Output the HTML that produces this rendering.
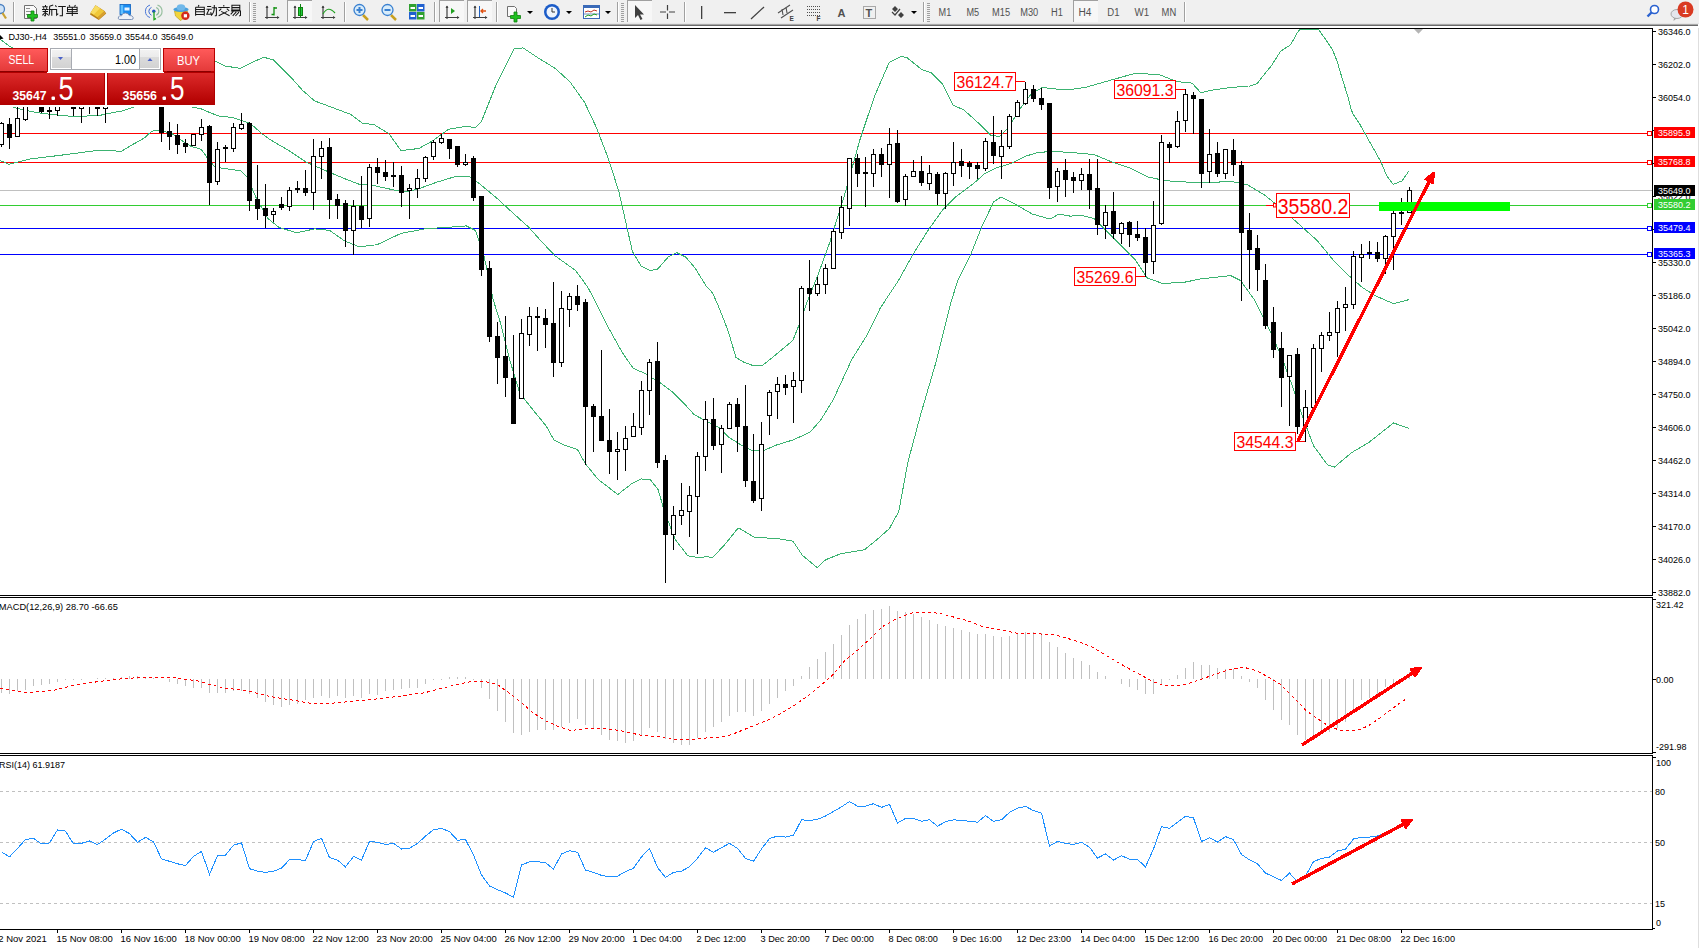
<!DOCTYPE html><html><head><meta charset="utf-8"><title>MT4 DJ30 H4</title><style>
html,body{margin:0;padding:0;width:1699px;height:948px;overflow:hidden;background:#fff}
svg{display:block} text{font-family:"Liberation Sans", sans-serif}
</style></head><body>
<svg width="1699" height="948" viewBox="0 0 1699 948">
<rect x="0" y="0" width="1699" height="948" fill="#fff"/>
<defs><clipPath id="cm"><rect x="0" y="29" width="1652" height="566"/></clipPath><clipPath id="cmacd"><rect x="0" y="598" width="1652" height="155"/></clipPath><clipPath id="crsi"><rect x="0" y="756" width="1652" height="173"/></clipPath><linearGradient id="gsell" x1="0" y1="0" x2="0" y2="1"><stop offset="0" stop-color="#ff5a5a"/><stop offset="1" stop-color="#e43a3a"/></linearGradient><linearGradient id="gprice" x1="0" y1="0" x2="0" y2="1"><stop offset="0" stop-color="#dc2a2a"/><stop offset="1" stop-color="#b20000"/></linearGradient><linearGradient id="gbtn" x1="0" y1="0" x2="0" y2="1"><stop offset="0" stop-color="#f2f2f2"/><stop offset="0.38" stop-color="#ebebeb"/><stop offset="0.4" stop-color="#dcdcdc"/><stop offset="1" stop-color="#d2d2d2"/></linearGradient></defs>
<g clip-path="url(#cm)">
<rect x="0" y="133" width="1652" height="1" fill="#ff0000"/>
<rect x="0" y="162" width="1652" height="1" fill="#ff0000"/>
<rect x="0" y="190" width="1652" height="1" fill="#c0c0c0"/>
<rect x="0" y="205" width="1652" height="1" fill="#32cd32"/>
<rect x="0" y="228" width="1652" height="1" fill="#0000ff"/>
<rect x="0" y="254" width="1652" height="1" fill="#0000ff"/>
<polyline points="0.0,39.0 9.0,46.0 20.0,52.0 60.0,58.0 120.0,60.0 170.0,57.0 200.0,60.0 217.0,61.9 225.4,66.1 240.3,68.3 250.9,63.0 263.6,57.2 273.1,59.8 290.8,77.1 302.7,90.5 314.6,100.9 338.5,109.8 350.4,114.3 362.3,123.2 374.2,124.7 389.0,133.7 401.0,150.6 418.8,148.5 432.2,141.1 448.6,129.2 466.4,126.2 475.4,127.7 481.3,121.8 496.2,84.5 514.0,48.8 523.0,47.9 537.9,57.8 554.9,68.2 569.8,81.6 584.6,102.4 596.5,127.7 608.5,159.0 618.9,191.7 626.3,224.4 632.3,251.2 641.2,266.1 650.1,270.6 657.6,269.1 668.0,257.2 676.9,252.7 685.8,257.2 694.8,267.6 706.7,286.9 712.6,292.9 720.0,310.0 728.2,331.1 736.0,357.6 743.8,362.2 752.4,365.3 761.8,366.0 774.2,356.0 792.9,340.4 799.1,324.9 806.0,304.8 817.9,275.0 829.8,242.3 844.6,194.7 859.5,141.1 874.4,96.5 889.3,62.2 901.2,56.3 907.1,57.8 922.0,69.7 931.0,72.6 942.9,84.5 953.3,105.4 963.7,109.8 978.6,123.2 990.5,135.1 999.4,136.6 1008.3,127.7 1020.2,108.4 1032.1,92.9 1042.6,87.5 1056.0,89.0 1070.0,89.6 1084.9,87.5 1105.7,81.6 1135.5,73.2 1159.3,74.7 1177.1,81.6 1192.0,83.1 1201.0,92.9 1209.9,90.5 1230.7,87.5 1248.6,86.0 1250.0,86.0 1257.0,83.7 1265.3,73.1 1271.2,66.0 1280.6,51.3 1284.1,49.0 1288.8,46.0 1291.2,43.7 1297.1,33.1 1300.0,29.0 1318.3,29.0 1327.7,42.5 1332.4,49.5 1337.1,61.3 1340.6,73.1 1344.2,84.9 1347.4,95.0 1351.6,110.8 1353.7,115.0 1360.0,124.6 1365.3,134.0 1374.8,151.0 1381.2,162.5 1386.4,175.2 1393.3,184.5 1398.0,182.4 1401.7,181.3 1408.6,171.5" fill="none" stroke="#3cb371" stroke-width="1" shape-rendering="crispEdges"/>
<polyline points="0.0,103.0 10.0,106.0 14.0,107.5 17.9,108.4 29.8,111.3 44.6,113.7 74.4,116.7 100.0,115.3 112.7,112.7 122.8,110.8 134.2,107.0 140.0,104.0 160.0,100.0 186.0,104.0 192.4,107.0 201.3,108.9 210.1,112.7 220.0,116.5 232.1,117.3 250.0,123.2 261.9,133.7 270.0,139.6 287.9,150.0 305.7,161.9 329.5,172.3 347.4,179.8 359.3,184.3 374.2,185.7 395.0,190.2 406.9,191.7 418.8,188.7 436.7,182.2 454.5,176.8 469.4,176.8 478.3,182.8 496.2,197.6 514.0,214.0 528.9,227.4 540.0,239.9 554.9,255.7 575.7,270.6 587.6,286.9 594.5,300.0 606.9,324.9 622.5,352.9 633.3,368.4 644.2,373.1 659.8,382.5 672.2,391.8 684.7,404.2 694.0,414.5 706.5,421.3 718.9,427.6 728.2,436.9 740.7,444.7 752.4,450.9 764.9,450.0 777.3,444.7 792.9,440.0 810.0,432.2 820.9,419.8 833.3,399.6 852.0,359.1 867.6,334.2 880.4,307.8 898.2,281.0 913.1,254.2 928.0,230.4 942.9,209.5 954.8,197.6 972.6,184.3 984.5,173.8 996.4,167.9 1011.3,163.4 1026.2,156.0 1038.1,152.4 1053.0,151.5 1070.0,152.4 1093.8,154.5 1111.7,161.9 1129.5,167.9 1147.4,176.8 1165.2,180.7 1189.0,182.2 1206.9,182.8 1230.7,181.3 1247.4,184.8 1264.8,195.2 1282.2,209.1 1299.6,224.8 1317.0,240.4 1334.3,261.3 1348.3,275.2 1362.2,287.4 1376.1,296.1 1393.5,303.7 1409.1,299.6" fill="none" stroke="#3cb371" stroke-width="1" shape-rendering="crispEdges"/>
<polyline points="0.0,160.4 8.9,164.3 29.8,159.0 59.5,155.4 100.0,150.1 121.5,151.3 132.9,144.4 144.3,138.0 150.6,132.3 154.4,130.2 158.2,130.4 170.9,133.0 181.0,140.0 191.1,146.3 201.3,149.4 207.6,158.3 213.9,165.9 220.2,167.9 241.0,170.9 247.0,176.8 256.0,197.6 267.9,218.5 278.9,227.4 296.8,232.8 314.6,228.9 329.5,230.4 344.4,240.8 359.3,246.8 377.1,244.7 401.0,233.4 424.8,228.9 454.5,226.8 466.4,225.9 475.4,230.4 484.3,257.2 493.3,300.0 501.1,324.9 510.4,362.2 519.8,393.3 532.2,408.9 546.2,426.0 554.0,440.0 563.3,444.7 577.3,449.3 585.1,463.3 597.6,478.9 617.8,494.5 631.8,483.6 641.1,478.9 650.5,479.8 658.2,489.8 664.5,511.6 675.3,539.6 687.8,555.8 698.7,557.6 706.5,556.7 712.7,557.6 725.1,544.2 737.6,528.7 740.0,528.7 754.0,537.1 780.4,539.0 792.9,541.1 802.2,555.1 817.2,567.6 825.6,559.8 841.1,553.6 864.5,549.8 876.9,539.6 889.3,528.7 898.7,511.6 908.0,461.8 920.5,415.1 936.0,362.2 951.6,300.0 957.7,281.0 969.6,257.2 981.5,227.4 993.5,202.1 1000.9,197.0 1014.3,203.6 1032.1,214.0 1050.0,219.1 1058.9,214.0 1070.0,216.1 1081.9,215.5 1093.8,218.5 1108.7,233.4 1123.6,248.2 1135.5,260.1 1147.4,278.0 1162.3,283.4 1183.1,282.5 1201.0,278.9 1230.7,275.6 1240.4,280.4 1254.3,299.6 1271.7,334.3 1282.2,358.7 1292.6,386.5 1303.0,417.8 1313.5,445.7 1327.4,464.8 1334.3,467.2 1351.7,452.6 1369.1,442.2 1393.5,423.0 1409.1,428.3" fill="none" stroke="#3cb371" stroke-width="1" shape-rendering="crispEdges"/>
<g fill="#000" shape-rendering="crispEdges"><rect x="1" y="122" width="1" height="25"/><rect x="-1" y="123" width="5" height="22"/><rect x="0" y="124" width="3" height="20" fill="#fff"/><rect x="9" y="118" width="1" height="31"/><rect x="7" y="124" width="5" height="14"/><rect x="17" y="104" width="1" height="33"/><rect x="15" y="118" width="5" height="19"/><rect x="16" y="119" width="3" height="17" fill="#fff"/><rect x="25" y="95" width="1" height="26"/><rect x="23" y="98" width="5" height="22"/><rect x="24" y="99" width="3" height="20" fill="#fff"/><rect x="33" y="88" width="1" height="17"/><rect x="31" y="92" width="5" height="9"/><rect x="41" y="96" width="1" height="17"/><rect x="39" y="100" width="5" height="12"/><rect x="49" y="100" width="1" height="19"/><rect x="47" y="110" width="5" height="2"/><rect x="57" y="97" width="1" height="19"/><rect x="55" y="100" width="5" height="11"/><rect x="56" y="101" width="3" height="9" fill="#fff"/><rect x="65" y="92" width="1" height="13"/><rect x="63" y="95" width="5" height="9"/><rect x="73" y="98" width="1" height="18"/><rect x="71" y="100" width="5" height="9"/><rect x="81" y="99" width="1" height="24"/><rect x="79" y="100" width="5" height="9"/><rect x="80" y="101" width="3" height="7" fill="#fff"/><rect x="89" y="95" width="1" height="19"/><rect x="87" y="98" width="5" height="7"/><rect x="97" y="96" width="1" height="20"/><rect x="95" y="100" width="5" height="9"/><rect x="105" y="97" width="1" height="26"/><rect x="103" y="100" width="5" height="9"/><rect x="104" y="101" width="3" height="7" fill="#fff"/><rect x="113" y="94" width="1" height="11"/><rect x="111" y="98" width="5" height="6"/><rect x="112" y="99" width="3" height="4" fill="#fff"/><rect x="121" y="86" width="1" height="16"/><rect x="119" y="90" width="5" height="9"/><rect x="120" y="91" width="3" height="7" fill="#fff"/><rect x="129" y="85" width="1" height="16"/><rect x="127" y="90" width="5" height="7"/><rect x="137" y="80" width="1" height="16"/><rect x="135" y="84" width="5" height="9"/><rect x="136" y="85" width="3" height="7" fill="#fff"/><rect x="145" y="76" width="1" height="15"/><rect x="143" y="80" width="5" height="7"/><rect x="144" y="81" width="3" height="5" fill="#fff"/><rect x="153" y="78" width="1" height="23"/><rect x="151" y="80" width="5" height="16"/><rect x="161" y="92" width="1" height="50"/><rect x="159" y="95" width="5" height="38"/><rect x="169" y="122" width="1" height="28"/><rect x="167" y="131" width="5" height="6"/><rect x="177" y="124" width="1" height="30"/><rect x="175" y="135" width="5" height="10"/><rect x="185" y="139" width="1" height="14"/><rect x="183" y="143" width="5" height="4"/><rect x="193" y="134" width="1" height="12"/><rect x="191" y="134" width="5" height="12"/><rect x="192" y="135" width="3" height="10" fill="#fff"/><rect x="201" y="119" width="1" height="22"/><rect x="199" y="127" width="5" height="8"/><rect x="200" y="128" width="3" height="6" fill="#fff"/><rect x="209" y="125" width="1" height="80"/><rect x="207" y="126" width="5" height="57"/><rect x="217" y="142" width="1" height="43"/><rect x="215" y="149" width="5" height="33"/><rect x="216" y="150" width="3" height="31" fill="#fff"/><rect x="225" y="145" width="1" height="17"/><rect x="223" y="147" width="5" height="2"/><rect x="233" y="123" width="1" height="29"/><rect x="231" y="127" width="5" height="22"/><rect x="232" y="128" width="3" height="20" fill="#fff"/><rect x="241" y="113" width="1" height="17"/><rect x="239" y="124" width="5" height="5"/><rect x="240" y="125" width="3" height="3" fill="#fff"/><rect x="249" y="122" width="1" height="89"/><rect x="247" y="123" width="5" height="78"/><rect x="257" y="165" width="1" height="55"/><rect x="255" y="199" width="5" height="10"/><rect x="265" y="184" width="1" height="44"/><rect x="263" y="208" width="5" height="8"/><rect x="273" y="208" width="1" height="14"/><rect x="271" y="211" width="5" height="4"/><rect x="272" y="212" width="3" height="2" fill="#fff"/><rect x="281" y="197" width="1" height="13"/><rect x="279" y="204" width="5" height="4"/><rect x="289" y="187" width="1" height="24"/><rect x="287" y="190" width="5" height="17"/><rect x="288" y="191" width="3" height="15" fill="#fff"/><rect x="297" y="181" width="1" height="12"/><rect x="295" y="188" width="5" height="2"/><rect x="305" y="170" width="1" height="26"/><rect x="303" y="188" width="5" height="5"/><rect x="313" y="139" width="1" height="71"/><rect x="311" y="156" width="5" height="37"/><rect x="312" y="157" width="3" height="35" fill="#fff"/><rect x="321" y="141" width="1" height="38"/><rect x="319" y="148" width="5" height="9"/><rect x="320" y="149" width="3" height="7" fill="#fff"/><rect x="329" y="138" width="1" height="81"/><rect x="327" y="147" width="5" height="53"/><rect x="337" y="194" width="1" height="25"/><rect x="335" y="199" width="5" height="7"/><rect x="345" y="200" width="1" height="47"/><rect x="343" y="203" width="5" height="28"/><rect x="353" y="200" width="1" height="55"/><rect x="351" y="206" width="5" height="25"/><rect x="352" y="207" width="3" height="23" fill="#fff"/><rect x="361" y="176" width="1" height="52"/><rect x="359" y="206" width="5" height="14"/><rect x="369" y="164" width="1" height="63"/><rect x="367" y="167" width="5" height="52"/><rect x="368" y="168" width="3" height="50" fill="#fff"/><rect x="377" y="158" width="1" height="26"/><rect x="375" y="167" width="5" height="6"/><rect x="385" y="160" width="1" height="21"/><rect x="383" y="172" width="5" height="5"/><rect x="393" y="162" width="1" height="25"/><rect x="391" y="175" width="5" height="2"/><rect x="401" y="166" width="1" height="41"/><rect x="399" y="175" width="5" height="18"/><rect x="409" y="184" width="1" height="35"/><rect x="407" y="188" width="5" height="3"/><rect x="408" y="189" width="3" height="1" fill="#fff"/><rect x="417" y="169" width="1" height="29"/><rect x="415" y="178" width="5" height="11"/><rect x="416" y="179" width="3" height="9" fill="#fff"/><rect x="425" y="156" width="1" height="26"/><rect x="423" y="157" width="5" height="22"/><rect x="424" y="158" width="3" height="20" fill="#fff"/><rect x="433" y="140" width="1" height="20"/><rect x="431" y="142" width="5" height="15"/><rect x="432" y="143" width="3" height="13" fill="#fff"/><rect x="441" y="134" width="1" height="10"/><rect x="439" y="138" width="5" height="5"/><rect x="440" y="139" width="3" height="3" fill="#fff"/><rect x="449" y="139" width="1" height="20"/><rect x="447" y="139" width="5" height="10"/><rect x="457" y="146" width="1" height="21"/><rect x="455" y="146" width="5" height="19"/><rect x="465" y="154" width="1" height="12"/><rect x="463" y="162" width="5" height="3"/><rect x="464" y="163" width="3" height="1" fill="#fff"/><rect x="473" y="156" width="1" height="45"/><rect x="471" y="158" width="5" height="40"/><rect x="481" y="196" width="1" height="80"/><rect x="479" y="196" width="5" height="74"/><rect x="489" y="261" width="1" height="81"/><rect x="487" y="268" width="5" height="69"/><rect x="497" y="322" width="1" height="62"/><rect x="495" y="336" width="5" height="22"/><rect x="505" y="316" width="1" height="81"/><rect x="503" y="356" width="5" height="22"/><rect x="513" y="335" width="1" height="89"/><rect x="511" y="378" width="5" height="46"/><rect x="521" y="319" width="1" height="80"/><rect x="519" y="333" width="5" height="66"/><rect x="520" y="334" width="3" height="64" fill="#fff"/><rect x="529" y="307" width="1" height="39"/><rect x="527" y="316" width="5" height="19"/><rect x="528" y="317" width="3" height="17" fill="#fff"/><rect x="537" y="307" width="1" height="44"/><rect x="535" y="316" width="5" height="2"/><rect x="545" y="309" width="1" height="39"/><rect x="543" y="318" width="5" height="7"/><rect x="553" y="282" width="1" height="95"/><rect x="551" y="323" width="5" height="40"/><rect x="561" y="291" width="1" height="76"/><rect x="559" y="308" width="5" height="55"/><rect x="560" y="309" width="3" height="53" fill="#fff"/><rect x="569" y="293" width="1" height="34"/><rect x="567" y="296" width="5" height="14"/><rect x="568" y="297" width="3" height="12" fill="#fff"/><rect x="577" y="285" width="1" height="26"/><rect x="575" y="296" width="5" height="9"/><rect x="585" y="299" width="1" height="166"/><rect x="583" y="302" width="5" height="105"/><rect x="593" y="404" width="1" height="48"/><rect x="591" y="406" width="5" height="11"/><rect x="601" y="350" width="1" height="91"/><rect x="599" y="416" width="5" height="25"/><rect x="609" y="409" width="1" height="65"/><rect x="607" y="440" width="5" height="12"/><rect x="617" y="432" width="1" height="48"/><rect x="615" y="449" width="5" height="3"/><rect x="616" y="450" width="3" height="1" fill="#fff"/><rect x="625" y="426" width="1" height="45"/><rect x="623" y="438" width="5" height="12"/><rect x="624" y="439" width="3" height="10" fill="#fff"/><rect x="633" y="413" width="1" height="24"/><rect x="631" y="426" width="5" height="11"/><rect x="632" y="427" width="3" height="9" fill="#fff"/><rect x="641" y="381" width="1" height="54"/><rect x="639" y="390" width="5" height="38"/><rect x="640" y="391" width="3" height="36" fill="#fff"/><rect x="649" y="359" width="1" height="56"/><rect x="647" y="362" width="5" height="29"/><rect x="648" y="363" width="3" height="27" fill="#fff"/><rect x="657" y="342" width="1" height="126"/><rect x="655" y="361" width="5" height="102"/><rect x="665" y="455" width="1" height="128"/><rect x="663" y="460" width="5" height="75"/><rect x="673" y="506" width="1" height="44"/><rect x="671" y="515" width="5" height="20"/><rect x="672" y="516" width="3" height="18" fill="#fff"/><rect x="681" y="483" width="1" height="42"/><rect x="679" y="510" width="5" height="6"/><rect x="680" y="511" width="3" height="4" fill="#fff"/><rect x="689" y="486" width="1" height="51"/><rect x="687" y="495" width="5" height="17"/><rect x="688" y="496" width="3" height="15" fill="#fff"/><rect x="697" y="452" width="1" height="102"/><rect x="695" y="456" width="5" height="41"/><rect x="696" y="457" width="3" height="39" fill="#fff"/><rect x="705" y="401" width="1" height="70"/><rect x="703" y="419" width="5" height="38"/><rect x="704" y="420" width="3" height="36" fill="#fff"/><rect x="713" y="398" width="1" height="52"/><rect x="711" y="419" width="5" height="27"/><rect x="721" y="425" width="1" height="48"/><rect x="719" y="428" width="5" height="17"/><rect x="720" y="429" width="3" height="15" fill="#fff"/><rect x="729" y="402" width="1" height="27"/><rect x="727" y="404" width="5" height="25"/><rect x="728" y="405" width="3" height="23" fill="#fff"/><rect x="737" y="398" width="1" height="54"/><rect x="735" y="404" width="5" height="23"/><rect x="745" y="385" width="1" height="102"/><rect x="743" y="426" width="5" height="55"/><rect x="753" y="434" width="1" height="69"/><rect x="751" y="481" width="5" height="20"/><rect x="761" y="422" width="1" height="89"/><rect x="759" y="444" width="5" height="55"/><rect x="760" y="445" width="3" height="53" fill="#fff"/><rect x="769" y="390" width="1" height="45"/><rect x="767" y="392" width="5" height="24"/><rect x="768" y="393" width="3" height="22" fill="#fff"/><rect x="777" y="377" width="1" height="42"/><rect x="775" y="384" width="5" height="8"/><rect x="776" y="385" width="3" height="6" fill="#fff"/><rect x="785" y="375" width="1" height="20"/><rect x="783" y="384" width="5" height="4"/><rect x="793" y="372" width="1" height="51"/><rect x="791" y="380" width="5" height="7"/><rect x="792" y="381" width="3" height="5" fill="#fff"/><rect x="801" y="286" width="1" height="107"/><rect x="799" y="288" width="5" height="93"/><rect x="800" y="289" width="3" height="91" fill="#fff"/><rect x="809" y="260" width="1" height="51"/><rect x="807" y="288" width="5" height="6"/><rect x="817" y="277" width="1" height="19"/><rect x="815" y="284" width="5" height="10"/><rect x="816" y="285" width="3" height="8" fill="#fff"/><rect x="825" y="264" width="1" height="30"/><rect x="823" y="268" width="5" height="17"/><rect x="824" y="269" width="3" height="15" fill="#fff"/><rect x="833" y="229" width="1" height="40"/><rect x="831" y="231" width="5" height="38"/><rect x="832" y="232" width="3" height="36" fill="#fff"/><rect x="841" y="196" width="1" height="43"/><rect x="839" y="207" width="5" height="26"/><rect x="840" y="208" width="3" height="24" fill="#fff"/><rect x="849" y="158" width="1" height="68"/><rect x="847" y="158" width="5" height="51"/><rect x="848" y="159" width="3" height="49" fill="#fff"/><rect x="857" y="154" width="1" height="33"/><rect x="855" y="158" width="5" height="16"/><rect x="865" y="157" width="1" height="50"/><rect x="863" y="172" width="5" height="2"/><rect x="873" y="149" width="1" height="38"/><rect x="871" y="154" width="5" height="20"/><rect x="872" y="155" width="3" height="18" fill="#fff"/><rect x="881" y="148" width="1" height="29"/><rect x="879" y="154" width="5" height="11"/><rect x="889" y="128" width="1" height="70"/><rect x="887" y="144" width="5" height="21"/><rect x="888" y="145" width="3" height="19" fill="#fff"/><rect x="897" y="130" width="1" height="73"/><rect x="895" y="143" width="5" height="59"/><rect x="905" y="174" width="1" height="32"/><rect x="903" y="176" width="5" height="24"/><rect x="904" y="177" width="3" height="22" fill="#fff"/><rect x="913" y="160" width="1" height="17"/><rect x="911" y="171" width="5" height="6"/><rect x="912" y="172" width="3" height="4" fill="#fff"/><rect x="921" y="156" width="1" height="30"/><rect x="919" y="171" width="5" height="12"/><rect x="929" y="165" width="1" height="25"/><rect x="927" y="173" width="5" height="11"/><rect x="928" y="174" width="3" height="9" fill="#fff"/><rect x="937" y="172" width="1" height="33"/><rect x="935" y="174" width="5" height="20"/><rect x="945" y="172" width="1" height="37"/><rect x="943" y="173" width="5" height="21"/><rect x="944" y="174" width="3" height="19" fill="#fff"/><rect x="953" y="142" width="1" height="44"/><rect x="951" y="162" width="5" height="12"/><rect x="952" y="163" width="3" height="10" fill="#fff"/><rect x="961" y="149" width="1" height="28"/><rect x="959" y="161" width="5" height="5"/><rect x="969" y="161" width="1" height="18"/><rect x="967" y="163" width="5" height="4"/><rect x="977" y="162" width="1" height="17"/><rect x="975" y="165" width="5" height="4"/><rect x="985" y="138" width="1" height="33"/><rect x="983" y="141" width="5" height="28"/><rect x="984" y="142" width="3" height="26" fill="#fff"/><rect x="993" y="116" width="1" height="48"/><rect x="991" y="142" width="5" height="14"/><rect x="1001" y="130" width="1" height="49"/><rect x="999" y="146" width="5" height="11"/><rect x="1000" y="147" width="3" height="9" fill="#fff"/><rect x="1009" y="114" width="1" height="35"/><rect x="1007" y="116" width="5" height="31"/><rect x="1008" y="117" width="3" height="29" fill="#fff"/><rect x="1017" y="100" width="1" height="17"/><rect x="1015" y="102" width="5" height="15"/><rect x="1016" y="103" width="3" height="13" fill="#fff"/><rect x="1025" y="82" width="1" height="23"/><rect x="1023" y="89" width="5" height="15"/><rect x="1024" y="90" width="3" height="13" fill="#fff"/><rect x="1033" y="85" width="1" height="17"/><rect x="1031" y="89" width="5" height="10"/><rect x="1041" y="88" width="1" height="22"/><rect x="1039" y="98" width="5" height="7"/><rect x="1049" y="103" width="1" height="96"/><rect x="1047" y="103" width="5" height="85"/><rect x="1057" y="168" width="1" height="34"/><rect x="1055" y="171" width="5" height="16"/><rect x="1056" y="172" width="3" height="14" fill="#fff"/><rect x="1065" y="159" width="1" height="38"/><rect x="1063" y="170" width="5" height="10"/><rect x="1073" y="172" width="1" height="21"/><rect x="1071" y="177" width="5" height="4"/><rect x="1081" y="168" width="1" height="22"/><rect x="1079" y="174" width="5" height="7"/><rect x="1080" y="175" width="3" height="5" fill="#fff"/><rect x="1089" y="159" width="1" height="50"/><rect x="1087" y="174" width="5" height="16"/><rect x="1097" y="159" width="1" height="76"/><rect x="1095" y="188" width="5" height="37"/><rect x="1105" y="205" width="1" height="34"/><rect x="1103" y="212" width="5" height="14"/><rect x="1104" y="213" width="3" height="12" fill="#fff"/><rect x="1113" y="192" width="1" height="47"/><rect x="1111" y="211" width="5" height="23"/><rect x="1121" y="222" width="1" height="22"/><rect x="1119" y="223" width="5" height="11"/><rect x="1120" y="224" width="3" height="9" fill="#fff"/><rect x="1129" y="221" width="1" height="26"/><rect x="1127" y="222" width="5" height="13"/><rect x="1137" y="221" width="1" height="20"/><rect x="1135" y="234" width="5" height="4"/><rect x="1145" y="228" width="1" height="49"/><rect x="1143" y="237" width="5" height="26"/><rect x="1153" y="201" width="1" height="73"/><rect x="1151" y="225" width="5" height="37"/><rect x="1152" y="226" width="3" height="35" fill="#fff"/><rect x="1161" y="135" width="1" height="90"/><rect x="1159" y="142" width="5" height="82"/><rect x="1160" y="143" width="3" height="80" fill="#fff"/><rect x="1169" y="142" width="1" height="21"/><rect x="1167" y="144" width="5" height="4"/><rect x="1177" y="111" width="1" height="37"/><rect x="1175" y="121" width="5" height="26"/><rect x="1176" y="122" width="3" height="24" fill="#fff"/><rect x="1185" y="89" width="1" height="43"/><rect x="1183" y="94" width="5" height="27"/><rect x="1184" y="95" width="3" height="25" fill="#fff"/><rect x="1193" y="92" width="1" height="42"/><rect x="1191" y="95" width="5" height="4"/><rect x="1201" y="99" width="1" height="89"/><rect x="1199" y="99" width="5" height="75"/><rect x="1209" y="129" width="1" height="54"/><rect x="1207" y="154" width="5" height="18"/><rect x="1208" y="155" width="3" height="16" fill="#fff"/><rect x="1217" y="142" width="1" height="35"/><rect x="1215" y="153" width="5" height="21"/><rect x="1225" y="149" width="1" height="30"/><rect x="1223" y="149" width="5" height="25"/><rect x="1224" y="150" width="3" height="23" fill="#fff"/><rect x="1233" y="139" width="1" height="37"/><rect x="1231" y="150" width="5" height="15"/><rect x="1241" y="161" width="1" height="140"/><rect x="1239" y="165" width="5" height="68"/><rect x="1249" y="213" width="1" height="76"/><rect x="1247" y="230" width="5" height="20"/><rect x="1257" y="235" width="1" height="56"/><rect x="1255" y="248" width="5" height="22"/><rect x="1265" y="264" width="1" height="65"/><rect x="1263" y="280" width="5" height="46"/><rect x="1273" y="307" width="1" height="51"/><rect x="1271" y="322" width="5" height="28"/><rect x="1281" y="332" width="1" height="75"/><rect x="1279" y="348" width="5" height="30"/><rect x="1289" y="355" width="1" height="71"/><rect x="1287" y="355" width="5" height="22"/><rect x="1288" y="356" width="3" height="20" fill="#fff"/><rect x="1297" y="348" width="1" height="86"/><rect x="1295" y="354" width="5" height="73"/><rect x="1305" y="390" width="1" height="52"/><rect x="1303" y="407" width="5" height="20"/><rect x="1304" y="408" width="3" height="18" fill="#fff"/><rect x="1313" y="344" width="1" height="64"/><rect x="1311" y="348" width="5" height="60"/><rect x="1312" y="349" width="3" height="58" fill="#fff"/><rect x="1321" y="332" width="1" height="40"/><rect x="1319" y="335" width="5" height="14"/><rect x="1320" y="336" width="3" height="12" fill="#fff"/><rect x="1329" y="312" width="1" height="29"/><rect x="1327" y="332" width="5" height="4"/><rect x="1328" y="333" width="3" height="2" fill="#fff"/><rect x="1337" y="301" width="1" height="56"/><rect x="1335" y="308" width="5" height="25"/><rect x="1336" y="309" width="3" height="23" fill="#fff"/><rect x="1345" y="287" width="1" height="44"/><rect x="1343" y="304" width="5" height="4"/><rect x="1344" y="305" width="3" height="2" fill="#fff"/><rect x="1353" y="251" width="1" height="58"/><rect x="1351" y="256" width="5" height="49"/><rect x="1352" y="257" width="3" height="47" fill="#fff"/><rect x="1361" y="244" width="1" height="38"/><rect x="1359" y="254" width="5" height="4"/><rect x="1360" y="255" width="3" height="2" fill="#fff"/><rect x="1369" y="241" width="1" height="18"/><rect x="1367" y="252" width="5" height="2"/><rect x="1377" y="242" width="1" height="20"/><rect x="1375" y="252" width="5" height="7"/><rect x="1385" y="235" width="1" height="39"/><rect x="1383" y="236" width="5" height="23"/><rect x="1384" y="237" width="3" height="21" fill="#fff"/><rect x="1393" y="211" width="1" height="59"/><rect x="1391" y="213" width="5" height="24"/><rect x="1392" y="214" width="3" height="22" fill="#fff"/><rect x="1401" y="198" width="1" height="27"/><rect x="1399" y="212" width="5" height="2"/><rect x="1409" y="187" width="1" height="26"/><rect x="1407" y="190" width="5" height="23"/><rect x="1408" y="191" width="3" height="21" fill="#fff"/></g>
<rect x="1647.5" y="131.5" width="4" height="4" fill="#fff" stroke="#ff0000" stroke-width="1"/>
<rect x="1647.5" y="160.5" width="4" height="4" fill="#fff" stroke="#ff0000" stroke-width="1"/>
<rect x="1647.5" y="203.5" width="4" height="4" fill="#fff" stroke="#32cd32" stroke-width="1"/>
<rect x="1647.5" y="226.5" width="4" height="4" fill="#fff" stroke="#0000ff" stroke-width="1"/>
<rect x="1647.5" y="252.5" width="4" height="4" fill="#fff" stroke="#0000ff" stroke-width="1"/>
<rect x="1379" y="202" width="131" height="9" fill="#00ff00"/>
<line x1="1016" y1="81.5" x2="1025" y2="81.5" stroke="#ff0000" stroke-width="1"/>
<rect x="954.5" y="72.5" width="61" height="18" fill="#fff" stroke="#ff0000" stroke-width="1"/>
<text x="985.0" y="87.8" font-size="16.5" fill="#ff0000" font-weight="normal" text-anchor="middle" textLength="57" lengthAdjust="spacingAndGlyphs" >36124.7</text>
<line x1="1176" y1="89.5" x2="1185" y2="89.5" stroke="#ff0000" stroke-width="1"/>
<rect x="1114.5" y="80.5" width="61" height="18" fill="#fff" stroke="#ff0000" stroke-width="1"/>
<text x="1145.0" y="95.8" font-size="16.5" fill="#ff0000" font-weight="normal" text-anchor="middle" textLength="57" lengthAdjust="spacingAndGlyphs" >36091.3</text>
<line x1="1136" y1="276.5" x2="1145" y2="276.5" stroke="#ff0000" stroke-width="1"/>
<rect x="1074.5" y="267.5" width="61" height="18" fill="#fff" stroke="#ff0000" stroke-width="1"/>
<text x="1105.0" y="282.8" font-size="16.5" fill="#ff0000" font-weight="normal" text-anchor="middle" textLength="57" lengthAdjust="spacingAndGlyphs" >35269.6</text>
<line x1="1296" y1="441.5" x2="1305" y2="441.5" stroke="#ff0000" stroke-width="1"/>
<rect x="1234.5" y="432.5" width="61" height="18" fill="#fff" stroke="#ff0000" stroke-width="1"/>
<text x="1265.0" y="447.8" font-size="16.5" fill="#ff0000" font-weight="normal" text-anchor="middle" textLength="57" lengthAdjust="spacingAndGlyphs" >34544.3</text>
<line x1="1266" y1="205.5" x2="1276" y2="205.5" stroke="#ff0000" stroke-width="1"/>
<rect x="1273.5" y="203.5" width="2.5" height="3.5" fill="#fff" stroke="#ff0000" stroke-width="1"/>
<rect x="1276.5" y="193.5" width="73" height="24" fill="#fff" stroke="#ff0000" stroke-width="1"/>
<text x="1313" y="214" font-size="21.5" fill="#ff0000" font-weight="normal" text-anchor="middle" textLength="70.5" lengthAdjust="spacingAndGlyphs" >35580.2</text>
<line x1="1298" y1="441" x2="1430.3" y2="179.3" stroke="#ff0000" stroke-width="3.4" shape-rendering="crispEdges"/>
<polygon points="1433.5,173.1 1433.1,183.0 1425.6,179.2" fill="#ff0000" stroke="#ff0000" stroke-width="2.4" stroke-linejoin="round" shape-rendering="crispEdges"/>
<polygon points="1414,29 1423,29 1418.5,33.8" fill="#b4b4b4"/>
</g>
<g clip-path="url(#cmacd)">
<g fill="#c0c0c0" shape-rendering="crispEdges"><rect x="1" y="679" width="1" height="14"/><rect x="9" y="679" width="1" height="15"/><rect x="17" y="679" width="1" height="12"/><rect x="25" y="679" width="1" height="11"/><rect x="33" y="679" width="1" height="7"/><rect x="41" y="679" width="1" height="6"/><rect x="49" y="679" width="1" height="5"/><rect x="57" y="679" width="1" height="3"/><rect x="65" y="679" width="1" height="1"/><rect x="73" y="679" width="1" height="1"/><rect x="81" y="679" width="1" height="1"/><rect x="97" y="678" width="1" height="1"/><rect x="105" y="678" width="1" height="1"/><rect x="113" y="678" width="1" height="1"/><rect x="121" y="677" width="1" height="2"/><rect x="129" y="676" width="1" height="3"/><rect x="137" y="676" width="1" height="3"/><rect x="145" y="677" width="1" height="2"/><rect x="153" y="678" width="1" height="1"/><rect x="169" y="679" width="1" height="3"/><rect x="177" y="679" width="1" height="5"/><rect x="185" y="679" width="1" height="7"/><rect x="193" y="679" width="1" height="9"/><rect x="201" y="679" width="1" height="9"/><rect x="209" y="679" width="1" height="14"/><rect x="217" y="679" width="1" height="14"/><rect x="225" y="679" width="1" height="14"/><rect x="233" y="679" width="1" height="12"/><rect x="241" y="679" width="1" height="12"/><rect x="249" y="679" width="1" height="15"/><rect x="257" y="679" width="1" height="19"/><rect x="265" y="679" width="1" height="23"/><rect x="273" y="679" width="1" height="26"/><rect x="281" y="679" width="1" height="28"/><rect x="289" y="679" width="1" height="26"/><rect x="297" y="679" width="1" height="25"/><rect x="305" y="679" width="1" height="21"/><rect x="313" y="679" width="1" height="19"/><rect x="321" y="679" width="1" height="17"/><rect x="329" y="679" width="1" height="19"/><rect x="337" y="679" width="1" height="17"/><rect x="345" y="679" width="1" height="19"/><rect x="353" y="679" width="1" height="17"/><rect x="361" y="679" width="1" height="19"/><rect x="369" y="679" width="1" height="15"/><rect x="377" y="679" width="1" height="16"/><rect x="385" y="679" width="1" height="12"/><rect x="393" y="679" width="1" height="11"/><rect x="401" y="679" width="1" height="10"/><rect x="409" y="679" width="1" height="9"/><rect x="417" y="679" width="1" height="9"/><rect x="425" y="679" width="1" height="5"/><rect x="433" y="679" width="1" height="1"/><rect x="441" y="679" width="1" height="1"/><rect x="449" y="677" width="1" height="2"/><rect x="457" y="677" width="1" height="2"/><rect x="465" y="677" width="1" height="2"/><rect x="473" y="679" width="1" height="1"/><rect x="481" y="679" width="1" height="9"/><rect x="489" y="679" width="1" height="20"/><rect x="497" y="679" width="1" height="32"/><rect x="505" y="679" width="1" height="43"/><rect x="513" y="679" width="1" height="54"/><rect x="521" y="679" width="1" height="56"/><rect x="529" y="679" width="1" height="53"/><rect x="537" y="679" width="1" height="51"/><rect x="545" y="679" width="1" height="51"/><rect x="553" y="679" width="1" height="51"/><rect x="561" y="679" width="1" height="48"/><rect x="569" y="679" width="1" height="44"/><rect x="577" y="679" width="1" height="40"/><rect x="585" y="679" width="1" height="46"/><rect x="593" y="679" width="1" height="49"/><rect x="601" y="679" width="1" height="56"/><rect x="609" y="679" width="1" height="61"/><rect x="617" y="679" width="1" height="62"/><rect x="625" y="679" width="1" height="64"/><rect x="633" y="679" width="1" height="62"/><rect x="641" y="679" width="1" height="56"/><rect x="649" y="679" width="1" height="49"/><rect x="657" y="679" width="1" height="53"/><rect x="665" y="679" width="1" height="60"/><rect x="673" y="679" width="1" height="64"/><rect x="681" y="679" width="1" height="66"/><rect x="689" y="679" width="1" height="66"/><rect x="697" y="679" width="1" height="59"/><rect x="705" y="679" width="1" height="53"/><rect x="713" y="679" width="1" height="48"/><rect x="721" y="679" width="1" height="43"/><rect x="729" y="679" width="1" height="37"/><rect x="737" y="679" width="1" height="33"/><rect x="745" y="679" width="1" height="33"/><rect x="753" y="679" width="1" height="37"/><rect x="761" y="679" width="1" height="32"/><rect x="769" y="679" width="1" height="25"/><rect x="777" y="679" width="1" height="19"/><rect x="785" y="679" width="1" height="12"/><rect x="793" y="679" width="1" height="7"/><rect x="801" y="676" width="1" height="3"/><rect x="809" y="667" width="1" height="12"/><rect x="817" y="659" width="1" height="20"/><rect x="825" y="652" width="1" height="27"/><rect x="833" y="644" width="1" height="35"/><rect x="841" y="635" width="1" height="44"/><rect x="849" y="625" width="1" height="54"/><rect x="857" y="619" width="1" height="60"/><rect x="865" y="614" width="1" height="65"/><rect x="873" y="610" width="1" height="69"/><rect x="881" y="609" width="1" height="70"/><rect x="889" y="606" width="1" height="73"/><rect x="897" y="611" width="1" height="68"/><rect x="905" y="612" width="1" height="67"/><rect x="913" y="614" width="1" height="65"/><rect x="921" y="617" width="1" height="62"/><rect x="929" y="620" width="1" height="59"/><rect x="937" y="624" width="1" height="55"/><rect x="945" y="626" width="1" height="53"/><rect x="953" y="628" width="1" height="51"/><rect x="961" y="630" width="1" height="49"/><rect x="969" y="632" width="1" height="47"/><rect x="977" y="634" width="1" height="45"/><rect x="985" y="634" width="1" height="45"/><rect x="993" y="636" width="1" height="43"/><rect x="1001" y="637" width="1" height="42"/><rect x="1009" y="636" width="1" height="43"/><rect x="1017" y="633" width="1" height="46"/><rect x="1025" y="632" width="1" height="47"/><rect x="1033" y="632" width="1" height="47"/><rect x="1041" y="633" width="1" height="46"/><rect x="1049" y="642" width="1" height="37"/><rect x="1057" y="647" width="1" height="32"/><rect x="1065" y="653" width="1" height="26"/><rect x="1073" y="658" width="1" height="21"/><rect x="1081" y="661" width="1" height="18"/><rect x="1089" y="665" width="1" height="14"/><rect x="1097" y="672" width="1" height="7"/><rect x="1105" y="676" width="1" height="3"/><rect x="1121" y="679" width="1" height="5"/><rect x="1129" y="679" width="1" height="8"/><rect x="1137" y="679" width="1" height="11"/><rect x="1145" y="679" width="1" height="15"/><rect x="1153" y="679" width="1" height="15"/><rect x="1161" y="679" width="1" height="6"/><rect x="1169" y="679" width="1" height="1"/><rect x="1177" y="675" width="1" height="4"/><rect x="1185" y="668" width="1" height="11"/><rect x="1193" y="662" width="1" height="17"/><rect x="1201" y="665" width="1" height="14"/><rect x="1209" y="665" width="1" height="14"/><rect x="1217" y="668" width="1" height="11"/><rect x="1225" y="669" width="1" height="10"/><rect x="1233" y="669" width="1" height="10"/><rect x="1241" y="676" width="1" height="3"/><rect x="1249" y="679" width="1" height="3"/><rect x="1257" y="679" width="1" height="9"/><rect x="1265" y="679" width="1" height="21"/><rect x="1273" y="679" width="1" height="31"/><rect x="1281" y="679" width="1" height="41"/><rect x="1289" y="679" width="1" height="46"/><rect x="1297" y="679" width="1" height="56"/><rect x="1305" y="679" width="1" height="61"/><rect x="1313" y="679" width="1" height="58"/><rect x="1321" y="679" width="1" height="54"/><rect x="1329" y="679" width="1" height="53"/><rect x="1337" y="679" width="1" height="49"/><rect x="1345" y="679" width="1" height="43"/><rect x="1353" y="679" width="1" height="32"/><rect x="1361" y="679" width="1" height="21"/><rect x="1369" y="679" width="1" height="19"/><rect x="1377" y="679" width="1" height="15"/><rect x="1385" y="679" width="1" height="8"/><rect x="1393" y="679" width="1" height="4"/><rect x="1401" y="679" width="1" height="1"/><rect x="1409" y="672" width="1" height="7"/></g>
<polyline points="0.0,688.4 24.7,692.2 37.0,691.9 54.4,690.2 74.2,685.2 98.9,681.5 123.6,678.6 148.3,677.1 173.0,677.3 197.8,681.0 210.0,684.5 222.5,687.7 247.2,690.9 272.0,696.9 296.7,700.8 309.0,703.0 333.7,703.0 358.5,700.8 383.2,698.3 408.0,695.1 412.5,694.4 424.8,692.7 439.7,688.9 459.4,684.0 471.8,681.5 484.2,681.5 496.5,684.0 508.9,692.7 521.2,702.5 533.6,713.2 546.0,721.1 558.3,726.5 570.7,730.5 583.0,729.0 602.8,728.5 620.1,730.5 632.5,733.4 644.9,735.9 657.2,736.4 669.6,738.9 681.9,739.6 694.3,739.1 706.7,737.9 724.0,736.7 731.4,734.7 743.7,729.7 756.1,724.8 768.5,719.8 780.8,713.7 793.2,706.2 805.5,697.6 817.9,687.7 832.4,675.3 844.7,660.5 857.1,650.6 869.4,639.5 881.8,627.1 894.2,619.7 906.5,614.8 913.9,612.3 931.2,612.3 943.6,614.3 956.0,617.7 968.3,621.0 980.7,625.9 993.0,628.4 1005.4,630.8 1017.8,633.3 1030.1,633.3 1042.5,634.1 1054.9,635.0 1067.2,638.3 1079.6,642.0 1091.9,646.9 1104.3,654.3 1116.7,661.7 1129.0,668.7 1141.4,675.3 1153.7,682.0 1166.1,686.0 1180.9,685.2 1190.8,682.8 1203.2,678.6 1215.5,674.1 1227.9,669.9 1241.8,667.5 1250.2,668.4 1260.4,672.6 1272.2,679.4 1280.6,684.4 1289.1,692.9 1297.5,701.3 1305.9,710.6 1314.4,716.5 1322.8,722.4 1331.2,727.4 1339.7,730.0 1348.1,730.8 1358.2,730.0 1368.4,725.8 1378.5,719.0 1388.6,711.4 1398.7,703.8 1405.5,699.3" fill="none" stroke="#ff0000" stroke-width="1" stroke-dasharray="3 3" shape-rendering="crispEdges"/>
<line x1="1302" y1="745" x2="1414.6" y2="671.7" stroke="#ff0000" stroke-width="3.4" shape-rendering="crispEdges"/>
<polygon points="1420.5,667.9 1415.2,676.3 1410.7,669.2" fill="#ff0000" stroke="#ff0000" stroke-width="2.4" stroke-linejoin="round" shape-rendering="crispEdges"/>
</g>
<g clip-path="url(#crsi)">
<line x1="0" y1="791.5" x2="1652" y2="791.5" stroke="#c0c0c0" stroke-width="1" stroke-dasharray="3 3"/>
<line x1="0" y1="842.5" x2="1652" y2="842.5" stroke="#c0c0c0" stroke-width="1" stroke-dasharray="3 3"/>
<line x1="0" y1="903.5" x2="1652" y2="903.5" stroke="#c0c0c0" stroke-width="1" stroke-dasharray="3 3"/>
<polyline points="1.5,851.9 9.5,856.9 17.5,848.4 25.5,839.5 33.5,838.3 41.5,844.0 49.5,843.0 57.5,829.9 65.5,831.1 73.5,844.0 81.5,843.3 89.5,841.0 97.5,844.5 105.5,839.1 113.5,832.9 121.5,829.2 129.5,833.6 137.5,842.3 145.5,837.3 153.5,842.0 161.5,858.8 169.5,861.3 177.5,863.8 185.5,865.5 193.5,856.4 201.5,851.4 209.5,874.4 217.5,855.6 225.5,855.1 233.5,845.2 241.5,842.8 249.5,868.7 257.5,871.2 265.5,872.4 273.5,871.2 281.5,868.2 289.5,859.6 297.5,859.6 305.5,860.6 313.5,841.5 321.5,838.3 329.5,857.6 337.5,860.1 345.5,867.0 353.5,856.4 361.5,860.1 369.5,841.5 377.5,842.3 385.5,844.5 393.5,843.3 401.5,849.0 409.5,848.2 417.5,843.5 425.5,836.1 433.5,829.7 441.5,828.4 449.5,831.6 457.5,840.3 465.5,839.5 473.5,855.1 481.5,874.9 489.5,886.0 497.5,889.7 505.5,893.0 513.5,897.2 521.5,865.0 529.5,861.8 537.5,861.8 545.5,862.5 553.5,869.2 561.5,853.9 569.5,850.7 577.5,852.2 585.5,870.0 593.5,872.4 601.5,875.4 609.5,876.9 617.5,876.1 625.5,871.7 633.5,868.2 641.5,856.9 649.5,848.4 657.5,867.5 665.5,877.4 673.5,872.4 681.5,871.2 689.5,866.7 697.5,858.3 705.5,847.7 713.5,852.2 721.5,847.7 729.5,843.3 737.5,848.4 745.5,858.3 753.5,861.3 761.5,848.9 769.5,838.6 777.5,836.1 785.5,837.1 793.5,835.3 801.5,819.8 809.5,820.5 817.5,819.3 825.5,816.0 833.5,811.4 841.5,806.9 849.5,801.5 857.5,806.2 865.5,806.2 873.5,803.7 881.5,807.4 889.5,804.4 897.5,823.0 905.5,818.5 913.5,818.5 921.5,821.3 929.5,819.8 937.5,826.2 945.5,821.7 953.5,819.8 961.5,820.5 969.5,821.3 977.5,822.2 985.5,815.6 993.5,821.3 1001.5,819.8 1009.5,812.4 1017.5,808.2 1025.5,806.4 1033.5,810.6 1041.5,813.1 1049.5,846.0 1057.5,841.5 1065.5,843.3 1073.5,844.5 1081.5,842.3 1089.5,847.2 1097.5,858.1 1105.5,853.9 1113.5,860.1 1121.5,855.6 1129.5,859.3 1137.5,859.3 1145.5,867.0 1153.5,848.9 1161.5,826.7 1169.5,828.4 1177.5,822.2 1185.5,816.3 1193.5,818.0 1201.5,841.5 1209.5,837.8 1217.5,842.0 1225.5,836.6 1233.5,839.7 1241.5,854.5 1249.5,859.8 1257.5,863.9 1265.5,873.1 1273.5,876.8 1281.5,880.5 1289.5,873.1 1297.5,882.0 1305.5,875.9 1313.5,861.7 1321.5,858.4 1329.5,857.1 1337.5,851.0 1345.5,849.1 1353.5,839.0 1361.5,837.1 1369.5,837.1 1377.5,836.0 1385.5,832.5 1393.5,828.8 1401.5,826.6 1409.5,822.2" fill="none" stroke="#1e90ff" stroke-width="1" shape-rendering="crispEdges"/>
<line x1="1292" y1="884" x2="1405.5" y2="823.1" stroke="#ff0000" stroke-width="3.4" shape-rendering="crispEdges"/>
<polygon points="1411.6,819.8 1405.7,827.7 1401.7,820.3" fill="#ff0000" stroke="#ff0000" stroke-width="2.4" stroke-linejoin="round" shape-rendering="crispEdges"/>
</g>
<g fill="#000" shape-rendering="crispEdges"><rect x="0" y="28" width="1653" height="1"/><rect x="0" y="595" width="1653" height="1"/><rect x="0" y="597" width="1653" height="1"/><rect x="0" y="753" width="1653" height="1"/><rect x="0" y="755" width="1653" height="1"/><rect x="0" y="929" width="1653" height="1"/><rect x="1652" y="28" width="1" height="568"/><rect x="1652" y="597" width="1" height="157"/><rect x="1652" y="755" width="1" height="175"/><rect x="1653" y="31" width="3" height="1"/><rect x="1653" y="64" width="3" height="1"/><rect x="1653" y="97" width="3" height="1"/><rect x="1653" y="130" width="3" height="1"/><rect x="1653" y="163" width="3" height="1"/><rect x="1653" y="196" width="3" height="1"/><rect x="1653" y="229" width="3" height="1"/><rect x="1653" y="262" width="3" height="1"/><rect x="1653" y="295" width="3" height="1"/><rect x="1653" y="328" width="3" height="1"/><rect x="1653" y="361" width="3" height="1"/><rect x="1653" y="394" width="3" height="1"/><rect x="1653" y="427" width="3" height="1"/><rect x="1653" y="460" width="3" height="1"/><rect x="1653" y="493" width="3" height="1"/><rect x="1653" y="526" width="3" height="1"/><rect x="1653" y="559" width="3" height="1"/><rect x="1653" y="592" width="3" height="1"/><rect x="1653" y="599" width="3" height="1"/><rect x="1653" y="679" width="3" height="1"/><rect x="1653" y="752" width="3" height="1"/><rect x="1653" y="757" width="3" height="1"/><rect x="1653" y="928" width="2" height="1"/><rect x="57" y="930" width="1" height="3"/><rect x="121" y="930" width="1" height="3"/><rect x="185" y="930" width="1" height="3"/><rect x="249" y="930" width="1" height="3"/><rect x="313" y="930" width="1" height="3"/><rect x="377" y="930" width="1" height="3"/><rect x="441" y="930" width="1" height="3"/><rect x="505" y="930" width="1" height="3"/><rect x="569" y="930" width="1" height="3"/><rect x="633" y="930" width="1" height="3"/><rect x="697" y="930" width="1" height="3"/><rect x="761" y="930" width="1" height="3"/><rect x="825" y="930" width="1" height="3"/><rect x="889" y="930" width="1" height="3"/><rect x="953" y="930" width="1" height="3"/><rect x="1017" y="930" width="1" height="3"/><rect x="1081" y="930" width="1" height="3"/><rect x="1145" y="930" width="1" height="3"/><rect x="1209" y="930" width="1" height="3"/><rect x="1273" y="930" width="1" height="3"/><rect x="1337" y="930" width="1" height="3"/><rect x="1401" y="930" width="1" height="3"/></g>
<text x="1658" y="34.5" font-size="9" fill="#000" font-weight="normal" text-anchor="start" textLength="32.5" lengthAdjust="spacingAndGlyphs" >36346.0</text>
<text x="1658" y="67.5" font-size="9" fill="#000" font-weight="normal" text-anchor="start" textLength="32.5" lengthAdjust="spacingAndGlyphs" >36202.0</text>
<text x="1658" y="100.5" font-size="9" fill="#000" font-weight="normal" text-anchor="start" textLength="32.5" lengthAdjust="spacingAndGlyphs" >36054.0</text>
<text x="1658" y="133.5" font-size="9" fill="#000" font-weight="normal" text-anchor="start" textLength="32.5" lengthAdjust="spacingAndGlyphs" >35910.0</text>
<text x="1658" y="166.5" font-size="9" fill="#000" font-weight="normal" text-anchor="start" textLength="32.5" lengthAdjust="spacingAndGlyphs" >35766.0</text>
<text x="1658" y="199.5" font-size="9" fill="#000" font-weight="normal" text-anchor="start" textLength="32.5" lengthAdjust="spacingAndGlyphs" >35622.0</text>
<text x="1658" y="232.5" font-size="9" fill="#000" font-weight="normal" text-anchor="start" textLength="32.5" lengthAdjust="spacingAndGlyphs" >35474.0</text>
<text x="1658" y="265.5" font-size="9" fill="#000" font-weight="normal" text-anchor="start" textLength="32.5" lengthAdjust="spacingAndGlyphs" >35330.0</text>
<text x="1658" y="298.5" font-size="9" fill="#000" font-weight="normal" text-anchor="start" textLength="32.5" lengthAdjust="spacingAndGlyphs" >35186.0</text>
<text x="1658" y="331.5" font-size="9" fill="#000" font-weight="normal" text-anchor="start" textLength="32.5" lengthAdjust="spacingAndGlyphs" >35042.0</text>
<text x="1658" y="364.5" font-size="9" fill="#000" font-weight="normal" text-anchor="start" textLength="32.5" lengthAdjust="spacingAndGlyphs" >34894.0</text>
<text x="1658" y="397.5" font-size="9" fill="#000" font-weight="normal" text-anchor="start" textLength="32.5" lengthAdjust="spacingAndGlyphs" >34750.0</text>
<text x="1658" y="430.5" font-size="9" fill="#000" font-weight="normal" text-anchor="start" textLength="32.5" lengthAdjust="spacingAndGlyphs" >34606.0</text>
<text x="1658" y="463.5" font-size="9" fill="#000" font-weight="normal" text-anchor="start" textLength="32.5" lengthAdjust="spacingAndGlyphs" >34462.0</text>
<text x="1658" y="496.5" font-size="9" fill="#000" font-weight="normal" text-anchor="start" textLength="32.5" lengthAdjust="spacingAndGlyphs" >34314.0</text>
<text x="1658" y="529.5" font-size="9" fill="#000" font-weight="normal" text-anchor="start" textLength="32.5" lengthAdjust="spacingAndGlyphs" >34170.0</text>
<text x="1658" y="562.5" font-size="9" fill="#000" font-weight="normal" text-anchor="start" textLength="32.5" lengthAdjust="spacingAndGlyphs" >34026.0</text>
<text x="1658" y="595.5" font-size="9" fill="#000" font-weight="normal" text-anchor="start" textLength="32.5" lengthAdjust="spacingAndGlyphs" >33882.0</text>
<text x="-7" y="942" font-size="9" fill="#000" font-weight="normal" text-anchor="start" textLength="53.8" lengthAdjust="spacingAndGlyphs" >12 Nov 2021</text>
<text x="56.5" y="942" font-size="9" fill="#000" font-weight="normal" text-anchor="start" textLength="56.4" lengthAdjust="spacingAndGlyphs" >15 Nov 08:00</text>
<text x="120.5" y="942" font-size="9" fill="#000" font-weight="normal" text-anchor="start" textLength="56.4" lengthAdjust="spacingAndGlyphs" >16 Nov 16:00</text>
<text x="184.5" y="942" font-size="9" fill="#000" font-weight="normal" text-anchor="start" textLength="56.4" lengthAdjust="spacingAndGlyphs" >18 Nov 00:00</text>
<text x="248.5" y="942" font-size="9" fill="#000" font-weight="normal" text-anchor="start" textLength="56.4" lengthAdjust="spacingAndGlyphs" >19 Nov 08:00</text>
<text x="312.5" y="942" font-size="9" fill="#000" font-weight="normal" text-anchor="start" textLength="56.4" lengthAdjust="spacingAndGlyphs" >22 Nov 12:00</text>
<text x="376.5" y="942" font-size="9" fill="#000" font-weight="normal" text-anchor="start" textLength="56.4" lengthAdjust="spacingAndGlyphs" >23 Nov 20:00</text>
<text x="440.5" y="942" font-size="9" fill="#000" font-weight="normal" text-anchor="start" textLength="56.4" lengthAdjust="spacingAndGlyphs" >25 Nov 04:00</text>
<text x="504.5" y="942" font-size="9" fill="#000" font-weight="normal" text-anchor="start" textLength="56.4" lengthAdjust="spacingAndGlyphs" >26 Nov 12:00</text>
<text x="568.5" y="942" font-size="9" fill="#000" font-weight="normal" text-anchor="start" textLength="56.4" lengthAdjust="spacingAndGlyphs" >29 Nov 20:00</text>
<text x="632.5" y="942" font-size="9" fill="#000" font-weight="normal" text-anchor="start" textLength="49.4" lengthAdjust="spacingAndGlyphs" >1 Dec 04:00</text>
<text x="696.5" y="942" font-size="9" fill="#000" font-weight="normal" text-anchor="start" textLength="49.4" lengthAdjust="spacingAndGlyphs" >2 Dec 12:00</text>
<text x="760.5" y="942" font-size="9" fill="#000" font-weight="normal" text-anchor="start" textLength="49.4" lengthAdjust="spacingAndGlyphs" >3 Dec 20:00</text>
<text x="824.5" y="942" font-size="9" fill="#000" font-weight="normal" text-anchor="start" textLength="49.4" lengthAdjust="spacingAndGlyphs" >7 Dec 00:00</text>
<text x="888.5" y="942" font-size="9" fill="#000" font-weight="normal" text-anchor="start" textLength="49.4" lengthAdjust="spacingAndGlyphs" >8 Dec 08:00</text>
<text x="952.5" y="942" font-size="9" fill="#000" font-weight="normal" text-anchor="start" textLength="49.4" lengthAdjust="spacingAndGlyphs" >9 Dec 16:00</text>
<text x="1016.5" y="942" font-size="9" fill="#000" font-weight="normal" text-anchor="start" textLength="54.5" lengthAdjust="spacingAndGlyphs" >12 Dec 23:00</text>
<text x="1080.5" y="942" font-size="9" fill="#000" font-weight="normal" text-anchor="start" textLength="54.5" lengthAdjust="spacingAndGlyphs" >14 Dec 04:00</text>
<text x="1144.5" y="942" font-size="9" fill="#000" font-weight="normal" text-anchor="start" textLength="54.5" lengthAdjust="spacingAndGlyphs" >15 Dec 12:00</text>
<text x="1208.5" y="942" font-size="9" fill="#000" font-weight="normal" text-anchor="start" textLength="54.5" lengthAdjust="spacingAndGlyphs" >16 Dec 20:00</text>
<text x="1272.5" y="942" font-size="9" fill="#000" font-weight="normal" text-anchor="start" textLength="54.5" lengthAdjust="spacingAndGlyphs" >20 Dec 00:00</text>
<text x="1336.5" y="942" font-size="9" fill="#000" font-weight="normal" text-anchor="start" textLength="54.5" lengthAdjust="spacingAndGlyphs" >21 Dec 08:00</text>
<text x="1400.5" y="942" font-size="9" fill="#000" font-weight="normal" text-anchor="start" textLength="54.5" lengthAdjust="spacingAndGlyphs" >22 Dec 16:00</text>
<rect x="1654" y="127" width="41" height="11" fill="#ff0000"/>
<text x="1658" y="135.8" font-size="9" fill="#fff" font-weight="normal" text-anchor="start" textLength="32.5" lengthAdjust="spacingAndGlyphs" >35895.9</text>
<rect x="1654" y="156" width="41" height="11" fill="#ff0000"/>
<text x="1658" y="164.8" font-size="9" fill="#fff" font-weight="normal" text-anchor="start" textLength="32.5" lengthAdjust="spacingAndGlyphs" >35768.8</text>
<rect x="1654" y="185" width="41" height="11" fill="#000000"/>
<text x="1658" y="193.8" font-size="9" fill="#fff" font-weight="normal" text-anchor="start" textLength="32.5" lengthAdjust="spacingAndGlyphs" >35649.0</text>
<rect x="1654" y="199" width="41" height="11" fill="#32cd32"/>
<text x="1658" y="207.8" font-size="9" fill="#fff" font-weight="normal" text-anchor="start" textLength="32.5" lengthAdjust="spacingAndGlyphs" >35580.2</text>
<rect x="1654" y="222" width="41" height="11" fill="#0000ff"/>
<text x="1658" y="230.8" font-size="9" fill="#fff" font-weight="normal" text-anchor="start" textLength="32.5" lengthAdjust="spacingAndGlyphs" >35479.4</text>
<rect x="1654" y="248" width="41" height="11" fill="#0000ff"/>
<text x="1658" y="256.8" font-size="9" fill="#fff" font-weight="normal" text-anchor="start" textLength="32.5" lengthAdjust="spacingAndGlyphs" >35365.3</text>
<text x="1656" y="608" font-size="9" fill="#000" font-weight="normal" text-anchor="start" >321.42</text>
<text x="1656" y="682.5" font-size="9" fill="#000" font-weight="normal" text-anchor="start" >0.00</text>
<text x="1656" y="750" font-size="9" fill="#000" font-weight="normal" text-anchor="start" >-291.98</text>
<text x="-1.2" y="610" font-size="9" fill="#000" font-weight="normal" text-anchor="start" textLength="119" lengthAdjust="spacingAndGlyphs" >MACD(12,26,9) 28.70 -66.65</text>
<text x="1656" y="766" font-size="9" fill="#000" font-weight="normal" text-anchor="start" >100</text>
<text x="1655" y="795" font-size="9" fill="#000" font-weight="normal" text-anchor="start" >80</text>
<text x="1655" y="846" font-size="9" fill="#000" font-weight="normal" text-anchor="start" >50</text>
<text x="1655" y="907" font-size="9" fill="#000" font-weight="normal" text-anchor="start" >15</text>
<text x="1656" y="925.8" font-size="9" fill="#000" font-weight="normal" text-anchor="start" >0</text>
<text x="-1" y="767.9" font-size="9.3" fill="#000" font-weight="normal" text-anchor="start" textLength="66" lengthAdjust="spacingAndGlyphs" >RSI(14) 61.9187</text>
<text x="8.5" y="39.5" font-size="9" fill="#000" font-weight="normal" text-anchor="start" textLength="38.3" lengthAdjust="spacingAndGlyphs" >DJ30-,H4</text>
<text x="53.2" y="39.5" font-size="9" fill="#000" font-weight="normal" text-anchor="start" textLength="32.4" lengthAdjust="spacingAndGlyphs" >35551.0</text>
<text x="89.2" y="39.5" font-size="9" fill="#000" font-weight="normal" text-anchor="start" textLength="32.4" lengthAdjust="spacingAndGlyphs" >35659.0</text>
<text x="125" y="39.5" font-size="9" fill="#000" font-weight="normal" text-anchor="start" textLength="32.4" lengthAdjust="spacingAndGlyphs" >35544.0</text>
<text x="160.9" y="39.5" font-size="9" fill="#000" font-weight="normal" text-anchor="start" textLength="32.4" lengthAdjust="spacingAndGlyphs" >35649.0</text>
<polygon points="0,35 3.5,38.5 0,39.5" fill="#000"/>
<rect x="1698" y="26" width="1" height="922" fill="#dedede"/>
<rect x="0" y="48" width="215" height="59" fill="#fff"/>
<rect x="0" y="48" width="48" height="24" fill="#b80000"/>
<rect x="0" y="49" width="47" height="22" fill="url(#gsell)"/>
<rect x="0" y="71" width="44" height="1" fill="#8a0000"/><rect x="0" y="72" width="44" height="1" fill="#ff7070"/>
<text x="8.5" y="64.3" font-size="12.3" fill="#fff" font-weight="normal" text-anchor="start" textLength="25.5" lengthAdjust="spacingAndGlyphs" >SELL</text>
<rect x="163" y="48" width="52" height="24" fill="#b80000"/>
<rect x="164" y="49" width="50" height="22" fill="url(#gsell)"/>
<rect x="167" y="71" width="44" height="1" fill="#8a0000"/><rect x="167" y="72" width="44" height="1" fill="#ff7070"/>
<text x="188.5" y="64.5" font-size="12.5" fill="#fff" font-weight="normal" text-anchor="middle" textLength="23" lengthAdjust="spacingAndGlyphs" >BUY</text>
<rect x="50.5" y="48.5" width="110" height="21" fill="#fff" stroke="#a8abb2" stroke-width="1"/>
<rect x="52" y="50" width="19" height="18" fill="url(#gbtn)"/>
<rect x="71" y="49" width="1" height="20" fill="#a8abb2"/>
<rect x="140" y="50" width="19" height="18" fill="url(#gbtn)"/>
<rect x="139" y="49" width="1" height="20" fill="#a8abb2"/>
<polygon points="58,57 63,57 60.5,60" fill="#4a62c8"/>
<polygon points="147.5,61 152.5,61 150,58" fill="#4a62c8"/>
<text x="136" y="63.5" font-size="12.5" fill="#000" font-weight="normal" text-anchor="end" textLength="21" lengthAdjust="spacingAndGlyphs" >1.00</text>
<rect x="0" y="72" width="105" height="33" fill="#b00000"/><rect x="0" y="73" width="104" height="31" fill="url(#gprice)"/>
<rect x="107" y="72" width="108" height="33" fill="#b00000"/><rect x="108" y="73" width="106" height="31" fill="url(#gprice)"/>
<rect x="47" y="72" width="117" height="1" fill="#fff"/>
<rect x="48" y="48" width="115" height="0" fill="#fff"/>
<text x="12.5" y="100" font-size="12.5" fill="#fff" font-weight="bold" text-anchor="start" textLength="34" lengthAdjust="spacingAndGlyphs" >35647</text>
<rect x="51.5" y="96.5" width="3.5" height="3.5" rx="1" fill="#fff"/>
<text x="58.5" y="100.3" font-size="33" fill="#fff" font-weight="normal" text-anchor="start" textLength="15" lengthAdjust="spacingAndGlyphs" >5</text>
<text x="122.5" y="100" font-size="12.5" fill="#fff" font-weight="bold" text-anchor="start" textLength="34.5" lengthAdjust="spacingAndGlyphs" >35656</text>
<rect x="162.5" y="96.5" width="3.5" height="3.5" rx="1" fill="#fff"/>
<text x="170" y="100.3" font-size="33" fill="#fff" font-weight="normal" text-anchor="start" textLength="14.5" lengthAdjust="spacingAndGlyphs" >5</text>
<rect x="0" y="0" width="1699" height="24" fill="#f0f0f0"/>
<rect x="0" y="23" width="1699" height="1" fill="#e6e6e6"/>
<rect x="0" y="24" width="1698" height="1" fill="#a9a9a9"/>
<rect x="0" y="25" width="1698" height="1" fill="#6a6a6a"/>
<rect x="0" y="26" width="1699" height="2" fill="#fff"/>
<circle cx="0" cy="9" r="4.5" fill="#cfe3f7" stroke="#4a7fc0" stroke-width="1.3"/>
<line x1="2.5" y1="13" x2="6" y2="18.5" stroke="#c8a030" stroke-width="2.2"/>
<rect x="13" y="2" width="1" height="20" fill="#a0a0a0"/><rect x="14" y="2" width="1" height="20" fill="#fff"/>
<path d="M24.5,5.5 h9 l3,3 v10 h-12 z" fill="#fafafa" stroke="#707070" stroke-width="1"/>
<rect x="26" y="8" width="4" height="1" fill="#909090"/><rect x="26" y="11" width="7" height="1" fill="#909090"/><rect x="26" y="14" width="5" height="1" fill="#909090"/>
<path d="M31,11 h3 v3.5 h3.5 v3 h-3.5 v3.5 h-3 v-3.5 h-3.5 v-3 h3.5 z" fill="#20c020" stroke="#108010" stroke-width="0.8"/>
<path d="M45.5,5v1.2 M42.3,6.8h5.4 M43.4,7.6l0.6,1.2 M47,7.6l-0.6,1.2 M42,9.5h6.6 M42.6,11.5h5.4 M45.4,9.5v6.2h-1.5 M45,12.5l-2.6,2.8 M46.2,13l1.6,1.8 M53.2,5.1l-3.6,1.2 M49.6,6.3v5.5q0,2.7,-1,4 M49.6,9.5h4.6 M51.8,9.5v6.3 M55.3,5.4l1.2,1.6 M54.2,9.5h2.4v5.6l1.6,-1.5 M58.2,6.5h7.6 M62.4,6.5v9.2h-2.8 M69,5.1l1,1.4 M75.5,5.1l-1,1.4 M67.5,7.2h9.6v4.6h-9.6z M67.5,9.5h9.6 M72.3,7.2v8.8 M66.2,13.5h11.8" fill="none" stroke="#161616" stroke-width="1.05"/>
<polygon points="95.5,5.2 104.5,11 106.2,13.6 98.8,20 90,14.6 90.8,12.6" fill="#b88018"/>
<polygon points="95.6,5.4 104.4,11.2 97.6,17.6 90.6,12.8" fill="#f0c838"/>
<polygon points="95.6,5.4 100,8.3 93.8,14.6 90.6,12.8" fill="#f8dc60"/>
<path d="M97.6,17.6 L104.4,11.2 L105.6,13.4 L98.8,19.6 Z" fill="#d8a030"/>
<rect x="120" y="4.5" width="10.5" height="10" fill="#1a8cf0" stroke="#0a60c0" stroke-width="0.8"/>
<rect x="120.6" y="5" width="2.6" height="9" fill="#60c0ff"/>
<rect x="124.5" y="7.5" width="5" height="3" fill="#e8f4ff"/>
<path d="M119.5,19.5 q-2,-0.5,-1,-2.5 q1,-2,3,-1.2 q0.8,-3.2,4.2,-2.8 q2.8,0.2,3.6,2.6 q3,-0.6,3.8,1.8 q0.6,2.2,-1.6,2.1 z" fill="#eef2f8" stroke="#7088b0" stroke-width="0.9"/>
<path d="M150,17.5 a6.5,6.5 0 0 1 0,-12.4" fill="none" stroke="#4a78d8" stroke-width="1"/>
<path d="M151.5,15.2 a4.2,4.2 0 0 1 0,-7.8" fill="none" stroke="#3a68d0" stroke-width="1"/>
<path d="M157.5,5.1 a6.5,6.5 0 0 1 0,12.4" fill="none" stroke="#98c0a0" stroke-width="1.2"/>
<path d="M156.2,7.4 a4.2,4.2 0 0 1 0,7.8" fill="none" stroke="#8ab898" stroke-width="1.1"/>
<circle cx="153.8" cy="11.3" r="1.7" fill="#2050c8"/>
<path d="M154,11.5 v8 l2,-1" fill="none" stroke="#28a828" stroke-width="1.4"/>
<path d="M174.5,11 l13,0 l-2,6 l-5,3.5 l-5,-4.5 z" fill="#f2d43a" stroke="#c0a020" stroke-width="0.7"/>
<ellipse cx="181" cy="9.5" rx="7.6" ry="2.6" fill="#4aa0dc"/><ellipse cx="181" cy="7.4" rx="4.2" ry="3.2" fill="#70b8ea"/>
<circle cx="185.4" cy="15.8" r="4.2" fill="#d42a1a"/><rect x="183.8" y="14.2" width="3.2" height="3.2" fill="#fff"/>
<path d="M199,5l-0.8,1.6 M195.6,7.2h8.7v8.6 M195.6,7.2v8.6 M195.6,9.4h8.7 M195.6,11.7h8.7 M195.6,14.4h8.7 M207.1,6.4h4.1 M206.5,9.3h5.3 M209,9.6l-2.2,4.6h4.6 M210.6,12.2l1,2.6 M211.8,7.8h4.6v7.4q0,0.8,-1.6,0.6 M214.3,5.1v2.7q0,5,-3.2,7.8 M223.8,5v1.6 M218.3,7.4h11.4 M221.3,8.6l-2.2,2.2 M226.8,8.6l2.4,2.2 M227.3,11.4l-8.6,4.4 M221.2,11.4l8.4,4.4 M231.9,5.3h7.9v4.7h-7.9z M231.9,7.6h7.9 M230.9,11h9.6v4.4l-1.3,0.6 M233.3,11.3l-2.6,3 M236.3,11.8l-3.6,4 M239,12.2l-3.6,3.8" fill="none" stroke="#161616" stroke-width="1.05"/>
<rect x="249" y="2" width="1" height="20" fill="#a0a0a0"/><rect x="250" y="2" width="1" height="20" fill="#fff"/>
<rect x="253" y="3" width="3" height="1" fill="#a0a0a0"/>
<rect x="253" y="5" width="3" height="1" fill="#a0a0a0"/>
<rect x="253" y="7" width="3" height="1" fill="#a0a0a0"/>
<rect x="253" y="9" width="3" height="1" fill="#a0a0a0"/>
<rect x="253" y="11" width="3" height="1" fill="#a0a0a0"/>
<rect x="253" y="13" width="3" height="1" fill="#a0a0a0"/>
<rect x="253" y="15" width="3" height="1" fill="#a0a0a0"/>
<rect x="253" y="17" width="3" height="1" fill="#a0a0a0"/>
<rect x="253" y="19" width="3" height="1" fill="#a0a0a0"/>
<rect x="253" y="21" width="3" height="1" fill="#a0a0a0"/>
<path d="M267,6 v13 M265,17.5 h14" stroke="#404040" stroke-width="1.2" fill="none"/>
<path d="M265.5,8 l1.5,-2.5 l1.5,2.5 z M277,16 l2.5,1.5 l-2.5,1.5 z" fill="#404040"/>
<path d="M271.5,14.5 h2.5 M274,7 v8.5 M274,8 h3" stroke="#109010" stroke-width="1.3" fill="none"/>
<rect x="287" y="0" width="25" height="22" fill="#f7f7f7"/>
<rect x="287" y="0" width="25" height="1" fill="#a0a0a0"/><rect x="287" y="0" width="1" height="22" fill="#a0a0a0"/>
<path d="M295,6 v13 M293,17.5 h14" stroke="#404040" stroke-width="1.2" fill="none"/>
<path d="M293.5,8 l1.5,-2.5 l1.5,2.5 z M305,16 l2.5,1.5 l-2.5,1.5 z" fill="#404040"/>
<rect x="298.5" y="7.5" width="4" height="8" fill="#20d040" stroke="#108010" stroke-width="1"/><rect x="300" y="4" width="1" height="14" fill="#108010"/>
<path d="M323,6 v13 M321,17.5 h14" stroke="#404040" stroke-width="1.2" fill="none"/>
<path d="M321.5,8 l1.5,-2.5 l1.5,2.5 z M333,16 l2.5,1.5 l-2.5,1.5 z" fill="#404040"/>
<path d="M323,14 q5,-9 12,-1" stroke="#20a020" stroke-width="1.2" fill="none"/>
<rect x="344" y="2" width="1" height="20" fill="#a0a0a0"/><rect x="345" y="2" width="1" height="20" fill="#fff"/>
<line x1="363" y1="15" x2="368" y2="20" stroke="#c8a020" stroke-width="2.5"/>
<circle cx="359.5" cy="10" r="5.5" fill="#d8ecfa" stroke="#3a80d0" stroke-width="1.3"/>
<rect x="356.5" y="9" width="6" height="2" fill="#3a80d0"/>
<rect x="358.5" y="7" width="2" height="6" fill="#3a80d0"/>
<line x1="391" y1="15" x2="396" y2="20" stroke="#c8a020" stroke-width="2.5"/>
<circle cx="387.5" cy="10" r="5.5" fill="#d8ecfa" stroke="#3a80d0" stroke-width="1.3"/>
<rect x="384.5" y="9" width="6" height="2" fill="#3a80d0"/>
<rect x="409" y="4" width="7.5" height="7.5" fill="#30a030"/><rect x="410.5" y="7" width="4.5" height="2" fill="#fff"/>
<rect x="417" y="4" width="7.5" height="7.5" fill="#2060d0"/><rect x="418.5" y="7" width="4.5" height="2" fill="#fff"/>
<rect x="409" y="12" width="7.5" height="7.5" fill="#2060d0"/><rect x="410.5" y="15" width="4.5" height="2" fill="#fff"/>
<rect x="417" y="12" width="7.5" height="7.5" fill="#30a030"/><rect x="418.5" y="15" width="4.5" height="2" fill="#fff"/>
<rect x="434" y="2" width="1" height="20" fill="#a0a0a0"/><rect x="435" y="2" width="1" height="20" fill="#fff"/>
<rect x="439" y="0" width="25" height="22" fill="#f7f7f7"/>
<rect x="439" y="0" width="25" height="1" fill="#a0a0a0"/><rect x="439" y="0" width="1" height="22" fill="#a0a0a0"/>
<path d="M447,6 v13 M445,17.5 h14" stroke="#404040" stroke-width="1.2" fill="none"/>
<path d="M445.5,8 l1.5,-2.5 l1.5,2.5 z M457,16 l2.5,1.5 l-2.5,1.5 z" fill="#404040"/>
<path d="M451,8 l4,3 l-4,3 z" fill="#20a020"/>
<rect x="467" y="0" width="25" height="22" fill="#f7f7f7"/>
<rect x="467" y="0" width="25" height="1" fill="#a0a0a0"/><rect x="467" y="0" width="1" height="22" fill="#a0a0a0"/>
<path d="M475,6 v13 M473,17.5 h14" stroke="#404040" stroke-width="1.2" fill="none"/>
<path d="M473.5,8 l1.5,-2.5 l1.5,2.5 z M485,16 l2.5,1.5 l-2.5,1.5 z" fill="#404040"/>
<rect x="479" y="6" width="1" height="11" fill="#2060c0"/><path d="M486,11 h-5 M483,9 l-2,2 l2,2" stroke="#e05010" stroke-width="1.3" fill="none"/>
<rect x="496" y="2" width="1" height="20" fill="#a0a0a0"/><rect x="497" y="2" width="1" height="20" fill="#fff"/>
<path d="M507.5,6.5 h7 l2,2 v8 h-9 z" fill="#fafafa" stroke="#707070" stroke-width="1"/>
<path d="M514,12 h3 v3.5 h3.5 v3 h-3.5 v3.5 h-3 v-3.5 h-3.5 v-3 h3.5 z" fill="#20c020" stroke="#108010" stroke-width="0.8"/>
<polygon points="527,11 533,11 530,14" fill="#000"/>
<circle cx="552" cy="12" r="8" fill="#1c5cc8"/><circle cx="552" cy="12" r="5.5" fill="#eef4fc"/><path d="M552,8 v4 h3" stroke="#333" stroke-width="1" fill="none"/>
<polygon points="566,11 572,11 569,14" fill="#000"/>
<rect x="583.5" y="5.5" width="16" height="13" fill="#fff" stroke="#3a6ab8" stroke-width="1"/><rect x="584" y="6" width="15" height="2" fill="#3a6ab8"/>
<path d="M585,12 l3,-1 l3,1 l3,-2 l3,1" stroke="#c03020" stroke-width="1" fill="none"/><rect x="584" y="13.5" width="15" height="1" fill="#7090c0"/><path d="M585,17 l3,-2 l3,1 l3,-2 l3,1" stroke="#20a020" stroke-width="1" fill="none"/>
<polygon points="605,11 611,11 608,14" fill="#000"/>
<rect x="617" y="2" width="1" height="20" fill="#a0a0a0"/><rect x="618" y="2" width="1" height="20" fill="#fff"/>
<rect x="621" y="3" width="3" height="1" fill="#a0a0a0"/>
<rect x="621" y="5" width="3" height="1" fill="#a0a0a0"/>
<rect x="621" y="7" width="3" height="1" fill="#a0a0a0"/>
<rect x="621" y="9" width="3" height="1" fill="#a0a0a0"/>
<rect x="621" y="11" width="3" height="1" fill="#a0a0a0"/>
<rect x="621" y="13" width="3" height="1" fill="#a0a0a0"/>
<rect x="621" y="15" width="3" height="1" fill="#a0a0a0"/>
<rect x="621" y="17" width="3" height="1" fill="#a0a0a0"/>
<rect x="621" y="19" width="3" height="1" fill="#a0a0a0"/>
<rect x="621" y="21" width="3" height="1" fill="#a0a0a0"/>
<rect x="627" y="0" width="25" height="22" fill="#f7f7f7"/>
<rect x="627" y="0" width="25" height="1" fill="#a0a0a0"/><rect x="627" y="0" width="1" height="22" fill="#a0a0a0"/>
<path d="M635,5 v13 l3,-3 l2.5,5 l2,-1 l-2.5,-4.5 h4 z" fill="#404040"/>
<path d="M667.5,5 v5.5 M667.5,13.5 v5.5 M660,12 h6 M669,12 h6" stroke="#404040" stroke-width="1.2"/>
<rect x="684" y="2" width="1" height="20" fill="#a0a0a0"/><rect x="685" y="2" width="1" height="20" fill="#fff"/>
<rect x="701" y="6" width="1.3" height="13" fill="#404040"/>
<rect x="724" y="12" width="12" height="1.3" fill="#404040"/>
<line x1="751" y1="19" x2="764" y2="7" stroke="#404040" stroke-width="1.2"/>
<path d="M778,13 l12,-8 M781,18 l12,-8 M782,9 l1,6 M786,7 l1,6" stroke="#505050" stroke-width="1.1" fill="none"/>
<text x="789.5" y="21" font-size="6.5" fill="#404040" font-weight="bold" text-anchor="start" >E</text>
<line x1="807" y1="6.5" x2="820" y2="6.5" stroke="#505050" stroke-width="1" stroke-dasharray="1 1"/>
<line x1="807" y1="9.5" x2="820" y2="9.5" stroke="#505050" stroke-width="1" stroke-dasharray="1 1"/>
<line x1="807" y1="12.5" x2="820" y2="12.5" stroke="#505050" stroke-width="1" stroke-dasharray="1 1"/>
<line x1="807" y1="15.5" x2="820" y2="15.5" stroke="#505050" stroke-width="1" stroke-dasharray="1 1"/>
<text x="816.5" y="21" font-size="6.5" fill="#404040" font-weight="bold" text-anchor="start" >F</text>
<text x="837.5" y="17" font-size="11" fill="#505050" font-weight="bold" text-anchor="start" >A</text>
<rect x="863.5" y="6.5" width="12" height="12" fill="none" stroke="#606060" stroke-width="1" stroke-dasharray="1 1"/>
<text x="865.5" y="17" font-size="11" fill="#505050" font-weight="bold" text-anchor="start" >T</text>
<path d="M895,6 l3,3 l-3,3 l-3,-3 z M901,12 l3,3 l-3,3 l-3,-3 z" fill="#404040"/><path d="M892,12 l3,3 l5,-6" stroke="#404040" stroke-width="1.2" fill="none"/>
<polygon points="911,11 917,11 914,14" fill="#000"/>
<rect x="923" y="2" width="1" height="20" fill="#a0a0a0"/><rect x="924" y="2" width="1" height="20" fill="#fff"/>
<rect x="927" y="3" width="3" height="1" fill="#a0a0a0"/>
<rect x="927" y="5" width="3" height="1" fill="#a0a0a0"/>
<rect x="927" y="7" width="3" height="1" fill="#a0a0a0"/>
<rect x="927" y="9" width="3" height="1" fill="#a0a0a0"/>
<rect x="927" y="11" width="3" height="1" fill="#a0a0a0"/>
<rect x="927" y="13" width="3" height="1" fill="#a0a0a0"/>
<rect x="927" y="15" width="3" height="1" fill="#a0a0a0"/>
<rect x="927" y="17" width="3" height="1" fill="#a0a0a0"/>
<rect x="927" y="19" width="3" height="1" fill="#a0a0a0"/>
<rect x="927" y="21" width="3" height="1" fill="#a0a0a0"/>
<rect x="1073" y="0" width="25" height="22" fill="#f7f7f7"/>
<rect x="1073" y="0" width="25" height="1" fill="#a0a0a0"/><rect x="1073" y="0" width="1" height="22" fill="#a0a0a0"/>
<text x="938.6" y="16" font-size="10" fill="#505050" font-weight="normal" text-anchor="start" textLength="12.7" lengthAdjust="spacingAndGlyphs" >M1</text>
<text x="966.4" y="16" font-size="10" fill="#505050" font-weight="normal" text-anchor="start" textLength="12.7" lengthAdjust="spacingAndGlyphs" >M5</text>
<text x="992.1" y="16" font-size="10" fill="#505050" font-weight="normal" text-anchor="start" textLength="18" lengthAdjust="spacingAndGlyphs" >M15</text>
<text x="1020.2" y="16" font-size="10" fill="#505050" font-weight="normal" text-anchor="start" textLength="18" lengthAdjust="spacingAndGlyphs" >M30</text>
<text x="1051.1" y="16" font-size="10" fill="#505050" font-weight="normal" text-anchor="start" textLength="11.8" lengthAdjust="spacingAndGlyphs" >H1</text>
<text x="1078.4" y="16" font-size="10" fill="#505050" font-weight="normal" text-anchor="start" textLength="13" lengthAdjust="spacingAndGlyphs" >H4</text>
<text x="1107.3" y="16" font-size="10" fill="#505050" font-weight="normal" text-anchor="start" textLength="12.2" lengthAdjust="spacingAndGlyphs" >D1</text>
<text x="1134.5" y="16" font-size="10" fill="#505050" font-weight="normal" text-anchor="start" textLength="14.6" lengthAdjust="spacingAndGlyphs" >W1</text>
<text x="1161.6" y="16" font-size="10" fill="#505050" font-weight="normal" text-anchor="start" textLength="14.6" lengthAdjust="spacingAndGlyphs" >MN</text>
<rect x="1184" y="2" width="1" height="20" fill="#a0a0a0"/><rect x="1185" y="2" width="1" height="20" fill="#fff"/>
<circle cx="1654.5" cy="9.5" r="4" fill="#fff" stroke="#2a62d0" stroke-width="1.6"/>
<line x1="1651.5" y1="12.5" x2="1647.5" y2="16.5" stroke="#2a62d0" stroke-width="2.4"/>
<ellipse cx="1677" cy="14" rx="6" ry="4.5" fill="#e4e6ec" stroke="#a8a8a8" stroke-width="1"/>
<path d="M1674,18 l-0.5,3 l3,-2.5 z" fill="#a0a0a0"/>
<circle cx="1685.5" cy="9.5" r="8" fill="#d93a22"/>
<text x="1685.5" y="14" font-size="12" fill="#fff" font-weight="normal" text-anchor="middle" >1</text>
</svg></body></html>
